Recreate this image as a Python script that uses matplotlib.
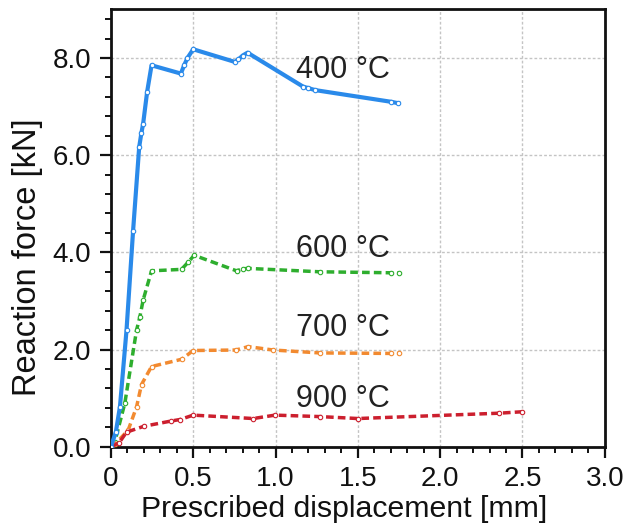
import matplotlib
matplotlib.use("Agg")
import matplotlib.pyplot as plt
from matplotlib.ticker import MultipleLocator, FormatStrFormatter, FuncFormatter

plt.rcParams['font.family'] = ['Liberation Sans', 'DejaVu Sans']

# Reaction force vs prescribed displacement at four temperatures
disp_400 = [0, 0.03, 0.055, 0.095, 0.135, 0.172, 0.185, 0.196, 0.22, 0.247,
            0.425, 0.445, 0.465, 0.50, 0.753, 0.775, 0.80, 0.83, 1.168, 1.20,
            1.24, 1.70, 1.745]
force_400 = [0, 0.3, 0.82, 2.4, 4.45, 6.17, 6.45, 6.65, 7.3, 7.85,
             7.68, 7.85, 8.0, 8.18, 7.92, 7.97, 8.05, 8.11, 7.41, 7.38,
             7.34, 7.1, 7.07]

disp_600 = [0, 0.024, 0.085, 0.156, 0.176, 0.196, 0.247, 0.429, 0.47, 0.506,
            0.763, 0.80, 0.834, 1.27, 1.70, 1.75]
force_600 = [0, 0.1, 0.9, 2.4, 2.67, 3.02, 3.62, 3.65, 3.8, 3.94,
             3.62, 3.66, 3.67, 3.6, 3.58, 3.58]

disp_700 = [0, 0.024, 0.105, 0.156, 0.186, 0.247, 0.43, 0.5, 0.76, 0.834,
            0.986, 1.27, 1.70, 1.75]
force_700 = [0, 0.05, 0.34, 0.82, 1.28, 1.65, 1.80, 1.98, 1.99, 2.06,
             1.99, 1.93, 1.92, 1.92]

disp_900 = [0, 0.05, 0.095, 0.2, 0.368, 0.42, 0.5, 0.865, 0.997, 1.27,
            1.5, 2.36, 2.5]
force_900 = [0, 0.08, 0.3, 0.42, 0.53, 0.56, 0.65, 0.58, 0.65, 0.62,
             0.58, 0.69, 0.72]

labels = ["400 °C", "600 °C", "700 °C", "900 °C"]
label_x = [1.41, 1.41, 1.41, 1.41]
label_y = [7.75, 4.07, 2.44, 0.98]

fig = plt.figure(figsize=(6.3, 5.24), dpi=100)
ax = fig.add_axes([0.176, 0.1475, 0.784, 0.8345])

dash = (0, (2.2, 1.2))
ax.plot(disp_400, force_400, color='#2a8aea', lw=3.0, solid_joinstyle='round',
        marker='o', ms=3.2, mfc='white', mec='#2a8aea', mew=0.8, zorder=4)
ax.plot(disp_600, force_600, color='#2eae2e', lw=2.5, ls=dash,
        marker='o', ms=3.2, mfc='white', mec='#2eae2e', mew=0.8, zorder=3)
ax.plot(disp_700, force_700, color='#f28a30', lw=2.5, ls=dash,
        marker='o', ms=3.2, mfc='white', mec='#f28a30', mew=0.8, zorder=3)
ax.plot(disp_900, force_900, color='#cc1f2e', lw=2.5, ls=dash,
        marker='o', ms=3.2, mfc='white', mec='#cc1f2e', mew=0.8, zorder=3)

for t, x, y in zip(labels, label_x, label_y):
    ax.text(x, y, t, ha='center', va='center', fontsize=22, color='#222222')

ax.set_xlim(0, 3.0)
ax.set_ylim(0, 9.0)
ax.xaxis.set_major_locator(MultipleLocator(0.5))
ax.xaxis.set_minor_locator(MultipleLocator(0.1))
ax.yaxis.set_major_locator(MultipleLocator(2.0))
ax.yaxis.set_minor_locator(MultipleLocator(0.4))
ax.xaxis.set_major_formatter(FuncFormatter(lambda v, p: "0" if abs(v) < 1e-9 else f"{v:.1f}"))
ax.yaxis.set_major_formatter(FormatStrFormatter("%.1f"))

ax.grid(True, which='major', color='#c4c4c4', ls=(0, (2, 1.5)), lw=1.0)
ax.set_axisbelow(True)

ax.tick_params(which='major', direction='out', length=8, width=1.6,
               labelsize=20, pad=6, colors='#111111')
ax.tick_params(which='minor', direction='out', length=4.5, width=1.4, colors='#111111')
for s in ax.spines.values():
    s.set_linewidth(2.0)
    s.set_color('#111111')

ax.set_xlabel("Prescribed displacement [mm]", fontsize=21.8, color='#111111')
ax.xaxis.set_label_coords(0.472, -0.161)
ax.xaxis.label.set_va('baseline')
ax.set_ylabel("Reaction force [kN]", fontsize=23.5, color='#111111')
ax.yaxis.set_label_coords(-0.168, 0.433)
ax.yaxis.label.set_va('center')

fig.savefig("out.png", dpi=100)
